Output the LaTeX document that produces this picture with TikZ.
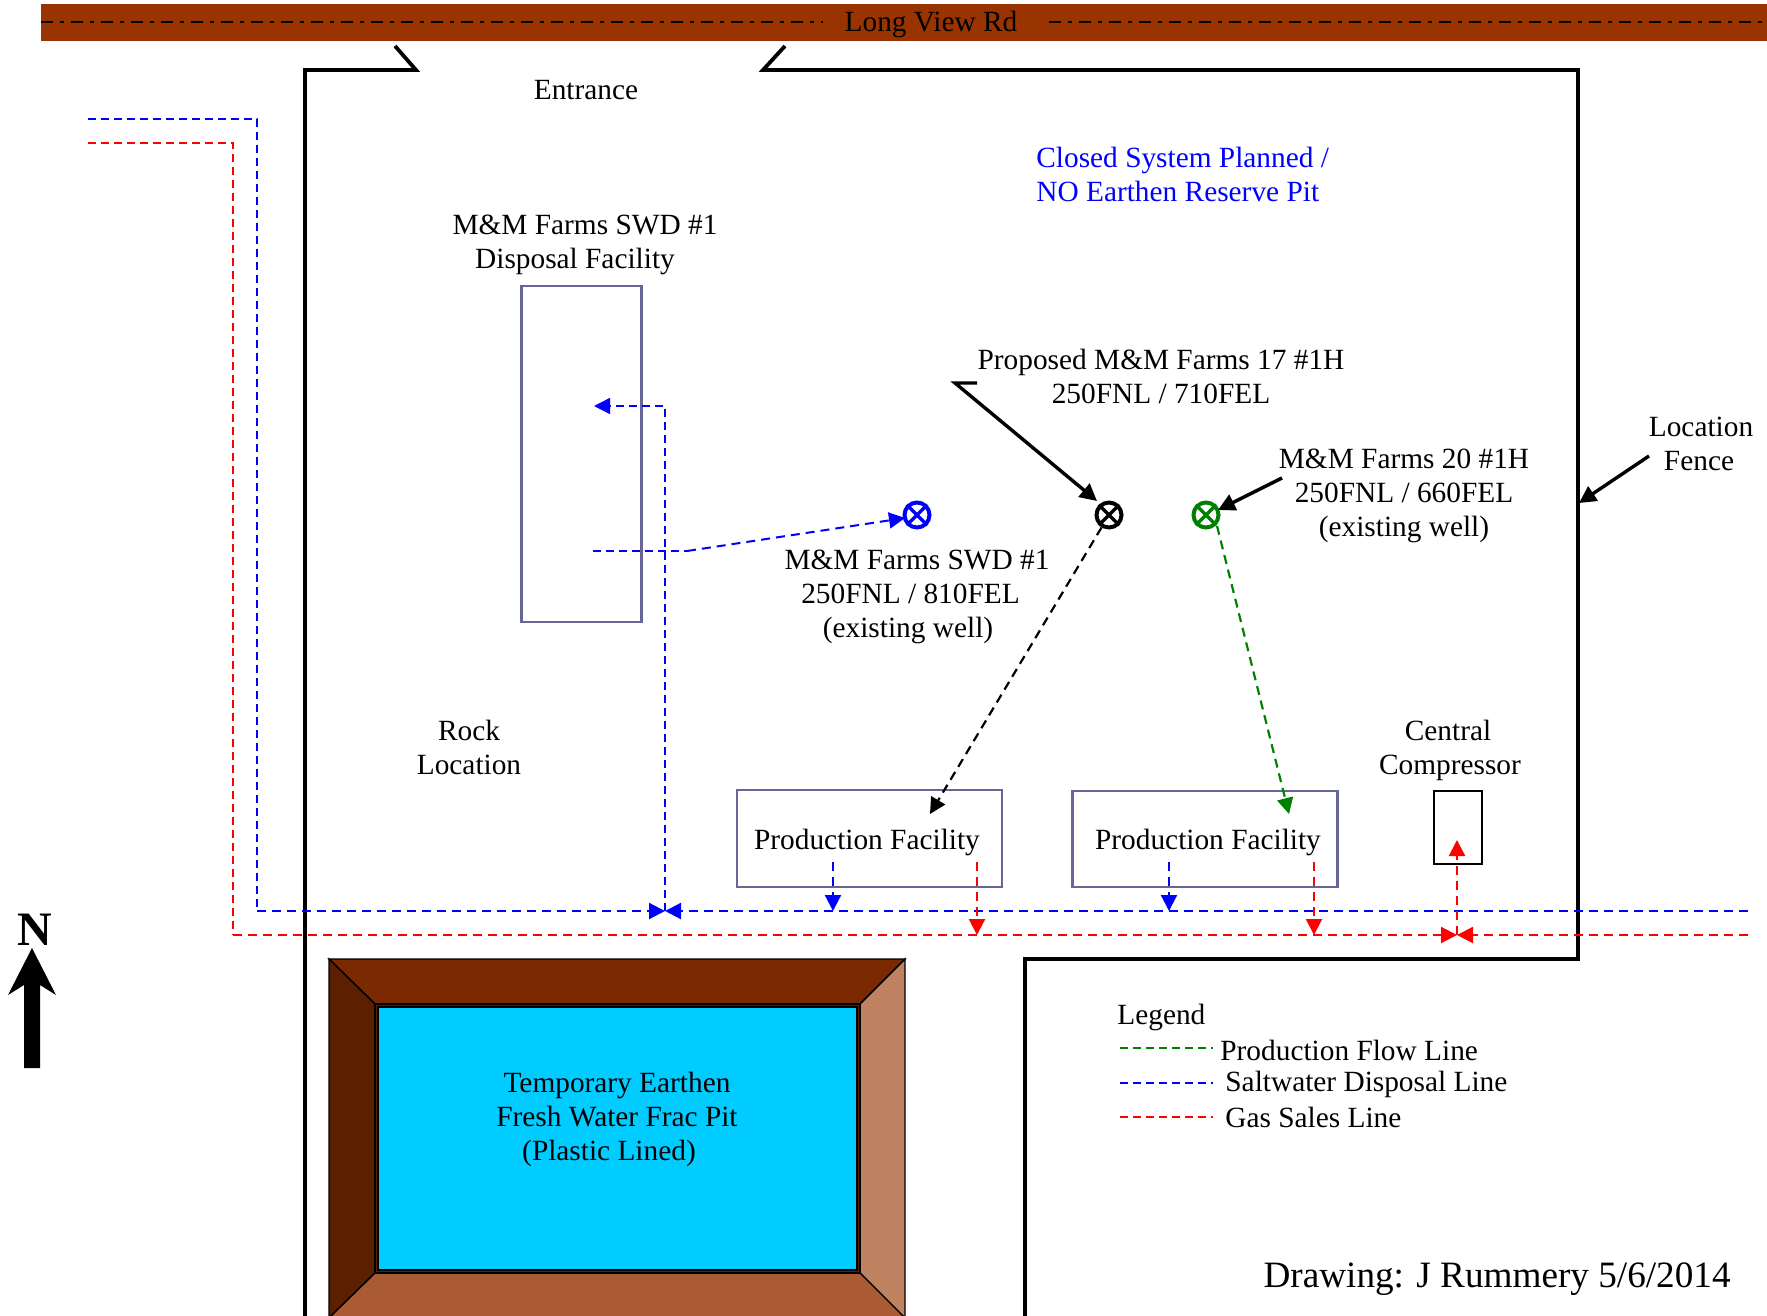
\documentclass[tikz,border=0pt]{standalone}
\usepackage{fontspec}
\setmainfont{Liberation Serif}
\usetikzlibrary{arrows.meta}
\definecolor{road}{HTML}{993300}
\definecolor{slate}{HTML}{666699}
\definecolor{pittop}{HTML}{7A2900}
\definecolor{pitleft}{HTML}{5C1F00}
\definecolor{pitright}{HTML}{BF8260}
\definecolor{pitbottom}{HTML}{AA5B33}
\definecolor{water}{HTML}{00CCFF}
\definecolor{wellgreen}{HTML}{008000}
\definecolor{lineblue}{HTML}{0000FF}
\definecolor{linered}{HTML}{FF0000}
\newcommand{\lineshift}[1]{\hspace*{#1}}
\newcommand{\shiftedline}[2]{\mbox{#1\hspace{#2}}}
\tikzset{
  lbl/.style={font=\fontsize{14.67}{17}\selectfont, align=center, inner sep=0pt, anchor=center},
  lblleft/.style={font=\fontsize{14.67}{17}\selectfont, inner sep=0pt, anchor=west},
  fencewall/.style={draw=black, line width=1.9pt, line join=miter},
  leader/.style={draw=black, line width=1.7pt, -{Triangle[length=8.5pt,width=8.5pt]}},
  tip/.style={-{Triangle[length=8pt,width=8pt]}},
  flowmain/.style={line width=1.1pt, dash pattern=on 4.5pt off 3pt},
  flowthin/.style={line width=0.7pt, dash pattern=on 4pt off 2.5pt},
  legendline/.style={line width=0.6pt, dash pattern=on 4pt off 2.5pt},
  roadline/.style={line width=1.2pt, dash pattern=on 6pt off 3.5pt on 2pt off 3.5pt},
  facility/.style={draw=slate, line width=1.3pt},
  well/.style={circle, minimum size=12.5pt, inner sep=0pt, line width=2pt},
  pitface/.style={draw=black, line width=0.7pt},
}
\begin{document}
\begin{tikzpicture}[x=0.5pt,y=-0.5pt]
\clip (0,0) rectangle (1767,1316);
\useasboundingbox (0,0) rectangle (1767,1316);
% road
\fill[road] (41,4) rectangle (1767,41);
\node[lbl] (roadname) at (931,24) {Long View Rd};
\coordinate (roadL) at (41,22);
\coordinate (roadM1) at (823,22);
\coordinate (roadM2) at (1049,22);
\coordinate (roadR) at (1767,22);
\draw[roadline] (roadL) -- (roadM1);
\draw[roadline] (roadM2) -- (roadR);
% fence
\draw[fencewall] (395,46) -- (416,70) -- (305,70) -- (305,1320);
\draw[fencewall] (785,46) -- (763,70) -- (1578,70) -- (1578,959) -- (1025,959) -- (1025,1320);
% pit
\filldraw[fill=pittop,pitface] (329,959) -- (905,959) -- (860,1004) -- (375,1004) -- cycle;
\filldraw[fill=pitleft,pitface] (329,959) -- (375,1004) -- (375,1273) -- (329,1318) -- cycle;
\filldraw[fill=pitright,pitface] (905,959) -- (860,1004) -- (860,1273) -- (905,1318) -- cycle;
\filldraw[fill=pitbottom,pitface] (329,1318) -- (375,1273) -- (860,1273) -- (905,1318) -- cycle;
\filldraw[fill=pitleft,draw=black,line width=0.7pt] (375,1004) rectangle (860,1273);
\filldraw[fill=water,draw=black,line width=0.7pt] (378,1007) rectangle (857,1270);
\node[lbl] (pitlabel) at (617,1119) {Temporary Earthen\\Fresh Water Frac Pit\\(Plastic Lined)\lineshift{8pt}};
% disposal rectangle and facilities
\node[facility, minimum width=60pt, minimum height=168pt, inner sep=0pt] (disposal) at (581.5,454) {};
\node[facility, minimum width=132.5pt, minimum height=48.5pt, inner sep=0pt] (pf1) at (869.5,838.5) {};
\node[facility, minimum width=132.5pt, minimum height=48pt, inner sep=0pt] (pf2) at (1205,839) {};
\node[draw=black, line width=0.9pt, minimum width=24pt, minimum height=36.5pt, inner sep=0pt] (comp) at (1458,827.5) {};
\node[lbl] (pf1t) at (867,842) {Production Facility};
\node[lbl] (pf2t) at (1208,842) {Production Facility};
% coordinates for line ends
\coordinate (swBlue) at (88,119);
\coordinate (cBlue) at (257,119);
\coordinate (dBlue) at (257,911);
\coordinate (swRed) at (88,143);
\coordinate (cRed) at (233,143);
\coordinate (dRed) at (233,935);
\coordinate (eBlue) at (1748,911);
\coordinate (eRed) at (1748,935);
\coordinate (meetBlue) at (665,911);
\coordinate (meetRed) at (1457,935);
\coordinate (topBlue) at (665,406);
\coordinate (tipDisp) at (594,406);
% wells
\node[well, draw=lineblue] (swd) at (917,515) {};
\node[well, draw=black] (prop) at (1109,515) {};
\node[well, draw=wellgreen] (exist) at (1206,515) {};
\foreach \w/\c in {swd/lineblue, prop/black, exist/wellgreen}{
  \draw[\c, line width=1.7pt] (\w.north west) -- (\w.south east);
  \draw[\c, line width=1.7pt] (\w.north east) -- (\w.south west);
}
% saltwater lines
\draw[lineblue, flowthin] (swBlue) -- (cBlue) -- (dBlue);
\draw[lineblue, flowmain, tip] (dBlue) -- (meetBlue);
\draw[lineblue, flowmain, tip] (eBlue) -- (meetBlue);
\draw[lineblue, flowthin, tip] (meetBlue) -- (topBlue) -- (tipDisp);
\coordinate (dispStart) at (593,551);
\coordinate (dispBend) at (687,551);
\coordinate (swdTip) at (905,518);
\draw[lineblue, flowthin] (dispStart) -- (dispBend);
\draw[lineblue, line width=1pt, dash pattern=on 4.5pt off 3pt, tip] (dispBend) -- (swdTip);
% gas lines
\draw[linered, flowthin] (swRed) -- (cRed) -- (dRed);
\draw[linered, flowmain, tip] (dRed) -- (meetRed);
\draw[linered, flowmain, tip] (eRed) -- (meetRed);
\draw[linered, flowmain, tip] (meetRed) -- (1457,840);
% facility drops
\coordinate (pf1b) at (833,862);
\coordinate (pf1r) at (977,862);
\coordinate (pf2b) at (1169,862);
\coordinate (pf2r) at (1314,862);
\draw[lineblue, flowmain, tip] (pf1b) -- (833,911);
\draw[lineblue, flowmain, tip] (pf2b) -- (1169,911);
\draw[linered, flowmain, tip] (pf1r) -- (977,935);
\draw[linered, flowmain, tip] (pf2r) -- (1314,935);
% production lines
\coordinate (tip1) at (930,814);
\coordinate (tip2) at (1289,814);
\draw[black, flowmain, tip] (prop) -- (tip1);
\draw[wellgreen, flowmain, tip] (1217,526) -- (tip2);
% leaders
\coordinate (propLead) at (977,383);
\coordinate (propBend) at (955,383);
\draw[leader] (propLead) -- (propBend) -- (1097,501);
\coordinate (existLead) at (1282,478);
\coordinate (existTip) at (1218,510);
\draw[leader] (existLead) -- (existTip);
\coordinate (fenceLead) at (1649,456);
\coordinate (fenceTip) at (1579,503);
\draw[leader] (fenceLead) -- (fenceTip);
% labels
\node[lbl] (entrance) at (586,90) {Entrance};
\node[lblleft, text=lineblue, align=left] (closed) at (1036,174) {Closed System Planned /\\NO Earthen Reserve Pit};
\node[lbl] (swdname) at (585,245) {M\&M Farms SWD \#1\\Disposal Facility\lineshift{10pt}};
\node[lbl] (propname) at (1161,376) {Proposed M\&M Farms 17 \#1H\\250FNL / 710FEL};
\node[lbl] (existname) at (1404,496) {M\&M Farms 20 \#1H\\250FNL / 660FEL\\(existing well)};
\node[lbl] (swdwell) at (917,597) {M\&M Farms SWD \#1\\\shiftedline{250FNL / 810FEL}{6.5pt}\\(existing well)\lineshift{9pt}};
\node[lbl] (rock) at (469,747) {Rock\\Location};
\node[lbl] (central) at (1450,750) {Central\lineshift{2pt}\\Compressor};
\node[lbl] (locfence) at (1701,444) {Location\\Fence\lineshift{2pt}};
% legend
\node[lblleft] (legend) at (1117,1017) {Legend};
\coordinate (lg1a) at (1120,1048);
\coordinate (lg1b) at (1213,1048);
\coordinate (lg2a) at (1120,1083);
\coordinate (lg2b) at (1213,1083);
\coordinate (lg3a) at (1120,1117);
\coordinate (lg3b) at (1213,1117);
\draw[wellgreen, legendline] (lg1a) -- (lg1b);
\draw[lineblue, legendline] (lg2a) -- (lg2b);
\draw[linered, legendline] (lg3a) -- (lg3b);
\node[lblleft] (lgt1) at (1220,1050) {Production Flow Line};
\node[lblleft] (lgt2) at (1225,1084) {Saltwater Disposal Line};
\node[lblleft] (lgt3) at (1225,1117) {Gas Sales Line};
\node[font=\fontsize{18.6}{21}\selectfont, inner sep=0pt, anchor=east] (credit) at (1731,1279) {Drawing: J Rummery 5/6/2014};
% north arrow
\node[font=\bfseries\fontsize{24}{28}\selectfont, inner sep=0pt] (north) at (35,930) {N};
\fill[black] (32,948) -- (56,995) -- (40,985) -- (40,1068) -- (24,1068) -- (24,985) -- (8,995) -- cycle;
\end{tikzpicture}
\end{document}
